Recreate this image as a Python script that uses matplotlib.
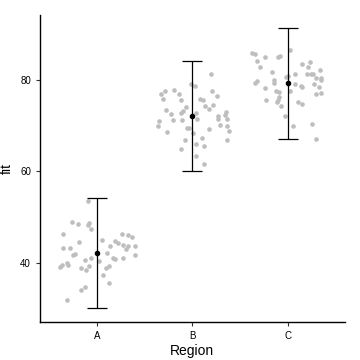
import numpy as np
import matplotlib.pyplot as plt

regions = ["A", "B", "C"]

# jitter offsets (x) and fit values (y) per region
a_dx = [-0.10, -0.265, -0.202, -0.081, -0.091, -0.066, -0.359, 0.262, 0.328, 0.370,
        0.049, -0.188, 0.188, 0.223, 0.136, 0.269, 0.328, 0.398, -0.359, -0.283,
        0.304, -0.234, -0.254, 0.102, 0.401, -0.063, 0.164, 0.192, 0.269, -0.126,
        0.024, -0.317, -0.301, -0.366, -0.387, -0.084, -0.171, 0.129, 0.094, -0.118,
        0.066, 0.123, -0.126, -0.168, -0.317]
a_fit = [53.55, 49.03, 48.53, 48.81, 48.31, 47.50, 46.40, 46.40, 46.06, 45.75,
         44.96, 44.52, 44.87, 44.31, 43.78, 44.00, 43.78, 43.78, 43.28, 43.34,
         43.13, 42.03, 41.75, 42.25, 41.81, 41.03, 41.09, 40.87, 41.03, 40.59,
         40.50, 40.07, 39.56, 39.56, 39.19, 39.41, 38.97, 39.28, 38.91, 38.47,
         37.38, 35.69, 34.69, 34.03, 31.91]

b_dx = [0.194, -0.019, 0.026, -0.288, -0.333, -0.194, -0.138, 0.201, 0.253, -0.312,
        -0.120, 0.079, 0.107, -0.068, 0.131, 0.218, 0.173, -0.277, -0.096, -0.124,
        -0.225, 0.351, 0.343, 0.270, 0.034, 0.044, 0.270, 0.358, -0.348, -0.207,
        -0.113, -0.361, 0.364, 0.288, -0.061, -0.034, 0.176, 0.382, -0.270, 0.002,
        0.099, -0.082, 0.358, 0.034, 0.120, -0.120, 0.037, 0.120]
b_fit = [81.38, 79.13, 78.63, 77.60, 77.01, 77.82, 76.94, 77.60, 76.44, 75.92,
         75.63, 75.92, 75.57, 74.10, 74.39, 74.47, 73.60, 73.45, 73.23, 72.86,
         72.57, 73.07, 72.35, 72.20, 72.72, 71.48, 71.48, 71.54, 70.98, 71.19,
         71.33, 69.95, 69.95, 70.10, 69.45, 69.58, 69.36, 68.92, 68.70, 68.48,
         67.33, 66.95, 66.82, 66.01, 65.58, 64.99, 63.39, 61.64]

c_dx = [0.021, -0.370, -0.346, -0.234, -0.102, -0.084, -0.321, 0.238, -0.293, 0.150,
        0.217, 0.335, -0.160, 0.073, 0.206, 0.241, 0.265, 0.003, -0.014, 0.293,
        0.353, 0.346, -0.321, -0.346, -0.147, -0.147, 0.073, 0.272, 0.136, 0.147,
        0.325, -0.241, 0.021, -0.118, -0.094, 0.353, 0.293, -0.094, -0.102, -0.223,
        -0.108, 0.108, 0.150, -0.066, -0.031, 0.259, 0.055, 0.293]
c_fit = [86.63, 85.97, 85.69, 84.97, 85.10, 85.32, 84.09, 84.00, 82.78, 83.43,
         82.85, 82.26, 81.82, 81.38, 81.38, 81.38, 81.31, 80.88, 80.72, 80.37,
         80.51, 79.94, 79.78, 79.41, 79.94, 79.41, 79.19, 79.06, 78.69, 78.41,
         78.54, 78.19, 77.60, 77.60, 77.31, 77.23, 76.88, 76.35, 75.70, 75.63,
         75.26, 75.26, 74.76, 74.39, 72.20, 70.45, 69.95, 67.11]

means = [42.2, 72.1, 79.3]
errs = [12.0, 12.1, 12.1]

plt.rcParams['font.family'] = ['Liberation Sans', 'DejaVu Sans']
fig = plt.figure(figsize=(3.6, 3.6), dpi=100)
ax = fig.add_axes([0.111, 0.106, 0.847, 0.852])

for i, (dx, fit) in enumerate([(a_dx, a_fit), (b_dx, b_fit), (c_dx, c_fit)]):
    ax.scatter(np.array(dx) + i + 1, fit, s=11, color='#BEBEBE', linewidths=0, zorder=1)

xpos = np.arange(1, len(regions) + 1)
ax.errorbar(xpos, means, yerr=errs, fmt='o', color='black', ms=3,
            elinewidth=0.9, capsize=7, capthick=0.9, zorder=3)

ax.set_xlim(0.4, 3.6)
ax.set_ylim(27.1, 94.2)
ax.set_xticks(xpos)
ax.set_xticklabels(regions)
ax.set_yticks([40, 60, 80])
ax.tick_params(labelsize=7, length=3, width=0.8, colors='#333333', labelcolor='black')
ax.set_xlabel("Region", fontsize=10)
ax.set_ylabel("fit", fontsize=10)
ax.xaxis.set_label_coords(0.5, -0.072)
ax.yaxis.set_label_coords(-0.085, 0.5)
for s in ['top', 'right']:
    ax.spines[s].set_visible(False)
for s in ['left', 'bottom']:
    ax.spines[s].set_linewidth(1.0)

fig.savefig("out.png", dpi=100)
